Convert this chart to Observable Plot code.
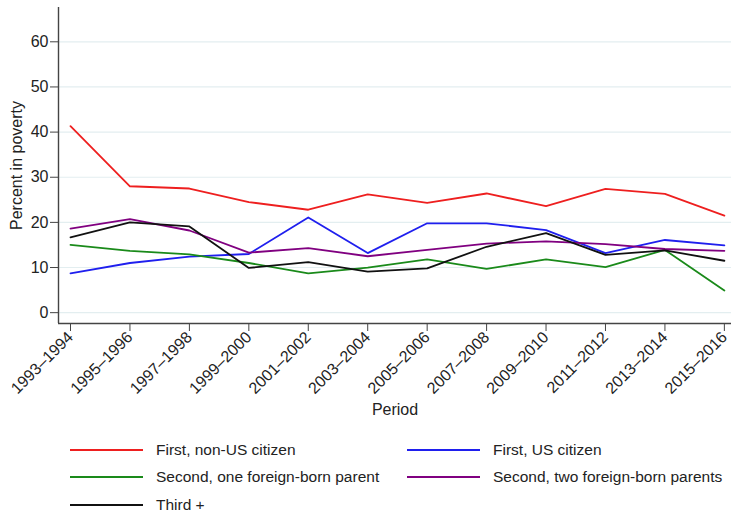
<!DOCTYPE html>
<html>
<head>
<meta charset="utf-8">
<script src="https://cdn.jsdelivr.net/npm/d3@7"></script>
<script src="https://cdn.jsdelivr.net/npm/@observablehq/plot@0.6"></script>
<style>
  html, body { margin: 0; padding: 0; background: #fff; }
  #wrap { position: relative; width: 731px; height: 513px; font-family: "Liberation Sans", Arial, sans-serif; color: #222; }
  .leg { position: absolute; display: flex; align-items: center; font-size: 15.5px; white-space: nowrap; }
  .leg .sw { width: 73px; height: 2px; margin-right: 13px; }
</style>
</head>
<body>
<div id="wrap"></div>
<script>
const periods = ["1993–1994","1995–1996","1997–1998","1999–2000","2001–2002","2003–2004",
                 "2005–2006","2007–2008","2009–2010","2011–2012","2013–2014","2015–2016"];
const seriesNames = ["First, non-US citizen","First, US citizen","Second, one foreign-born parent",
                     "Second, two foreign-born parents","Third +"];
const seriesColors = ["#ee1f1f","#1f1fee","#1a8a1a","#800080","#111111"];
const firstNonCitizen = [41.3, 28.0, 27.5, 24.5, 22.8, 26.2, 24.3, 26.4, 23.6, 27.4, 26.3, 21.5];
const firstCitizen    = [ 8.7, 11.0, 12.4, 13.0, 21.1, 13.2, 19.8, 19.8, 18.3, 13.2, 16.1, 14.9];
const secondOne       = [15.0, 13.7, 12.9, 11.0,  8.7, 10.0, 11.8,  9.7, 11.8, 10.1, 13.9,  4.9];
const secondTwo       = [18.6, 20.7, 18.2, 13.3, 14.3, 12.5, 13.9, 15.3, 15.8, 15.2, 14.1, 13.7];
const third           = [16.7, 20.0, 19.1,  9.9, 11.2,  9.1,  9.8, 14.6, 17.6, 12.8, 13.8, 11.5];
const yTicks = [0, 10, 20, 30, 40, 50, 60];

const allSeries = [firstNonCitizen, firstCitizen, secondOne, secondTwo, third];
const data = [];
allSeries.forEach((vals, s) => vals.forEach((v, i) => data.push({series: seriesNames[s], i, value: v})));

const xDomain = [-0.202, 11.12];
const yDomain = [-2.4, 67.6];

const chart = Plot.plot({
  width: 731,
  height: 430,
  marginLeft: 58,
  marginRight: 0,
  marginTop: 7,
  marginBottom: 107,
  style: {fontFamily: "Liberation Sans, Arial, sans-serif", fontSize: "16px", color: "#222", background: "#fff"},
  x: {domain: xDomain, label: null},
  y: {domain: yDomain, label: null},
  color: {domain: seriesNames, range: seriesColors},
  marks: [
    Plot.ruleY(yTicks, {stroke: "#e3eef0", strokeWidth: 1.2}),
    Plot.line(data, {x: "i", y: "value", z: "series", stroke: "series", strokeWidth: 1.8}),
    Plot.ruleX([xDomain[0]], {stroke: "#444", strokeWidth: 1.4}),
    Plot.ruleY([yDomain[0]], {stroke: "#444", strokeWidth: 1.4}),
    Plot.axisY({ticks: yTicks, tickSize: 8, tickPadding: 2, stroke: "#444", label: null}),
    Plot.axisX({ticks: d3.range(periods.length), tickFormat: i => periods[i], tickRotate: -45,
                tickSize: 8, tickPadding: 3, stroke: "#444", label: null}),
    Plot.text(["Percent in poverty"], {frameAnchor: "left", textAnchor: "middle", rotate: -90, dx: -42, fontSize: 16, fill: "#222"}),
    Plot.text(["Period"], {frameAnchor: "bottom", dy: 91, fontSize: 16, fill: "#222"})
  ]
});

const wrap = document.getElementById("wrap");
wrap.appendChild(chart);

const legPos = [[70, 450], [407, 450], [70, 477], [407, 477], [70, 505]];
seriesNames.forEach((name, k) => {
  const d = document.createElement("div");
  d.className = "leg";
  d.style.left = legPos[k][0] + "px";
  d.style.top = (legPos[k][1] - 10) + "px";
  d.style.height = "20px";
  const sw = document.createElement("span");
  sw.className = "sw";
  sw.style.background = seriesColors[k];
  const t = document.createElement("span");
  t.textContent = name;
  d.appendChild(sw); d.appendChild(t);
  wrap.appendChild(d);
});
</script>
</body>
</html>
